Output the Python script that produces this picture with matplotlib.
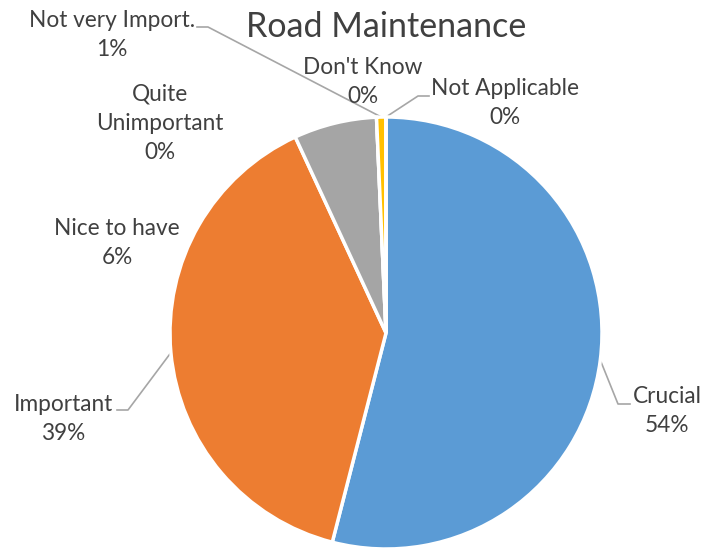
"""
Road Maintenance: share of answers per category, drawn as a pie chart.
"""

import numpy as np
import matplotlib
matplotlib.use("Agg")
import matplotlib.pyplot as plt

# Data (percent of answers)
categories = ["Crucial", "Important", "Nice to have", "Quite\nUnimportant",
              "Not very Import.", "Don't Know", "Not Applicable"]
values = [54.0, 39.1, 6.2, 0.0, 0.7, 0.0, 0.0]
pct_labels = ["54%", "39%", "6%", "0%", "1%", "0%", "0%"]
colors = ["#5B9BD5", "#ED7D31", "#A5A5A5", "#4472C4", "#FFC000", "#70AD47", "#264478"]

W, H = 704, 549
CX, CY, R = 386, 333, 216
TEXT = "#404040"
LEADER = "#A6A6A6"


def px(x, y):
    """Pixel position in the picture -> data coords (pie radius = 1)."""
    return (x - CX) / R, (CY - y) / R


def edge_point(i):
    """Point on the rim at the middle of wedge i (clockwise from the top)."""
    total = sum(values)
    start = sum(values[:i]) / total
    mid = (start + values[i] / total / 2) * 2 * np.pi
    return np.sin(mid), np.cos(mid)


def main():
    plt.rcParams['font.family'] = ['Lato', 'DejaVu Sans']
    fig = plt.figure(figsize=(W / 100, H / 100), dpi=100)
    ax = fig.add_axes([0, 0, 1, 1])

    ax.pie(values, colors=colors, startangle=90, counterclock=False, radius=1,
           wedgeprops=dict(edgecolor='white', linewidth=2.5))

    # pie() resets the limits, so set them afterwards
    ax.set_xlim(-CX / R, (W - CX) / R)
    ax.set_ylim(-(H - CY) / R, CY / R)
    ax.set_aspect('equal')
    ax.axis('off')

    # label text centres and leader lines (elbow, end), in picture pixels
    label_pos = [(667, 411), (63, 419), (117, 243), (160, 123),
                 (112, 35), (363, 82), (505, 103)]
    leaders = {
        0: [(618, 404), (630, 404)],
        1: [(128, 410), (117, 410)],
        4: [(208, 27), (197, 27)],
        6: [(418, 96), (429, 96)],
    }

    for i, (name, pct) in enumerate(zip(categories, pct_labels)):
        x, y = px(*label_pos[i])
        ax.text(x, y, f"{name}\n{pct}", ha='center', va='center', fontsize=16.3,
                color=TEXT, linespacing=1.5)
        if i in leaders:
            pts = [edge_point(i)] + [px(*p) for p in leaders[i]]
            xs, ys = zip(*pts)
            ax.plot(xs, ys, color=LEADER, linewidth=1.2, zorder=0.5)

    tx, ty = px(386, 27)
    ax.text(tx, ty, "Road Maintenance", ha='center', va='center', fontsize=24.5,
            color=TEXT)

    fig.savefig("out.png", dpi=100)


if __name__ == "__main__":
    main()
